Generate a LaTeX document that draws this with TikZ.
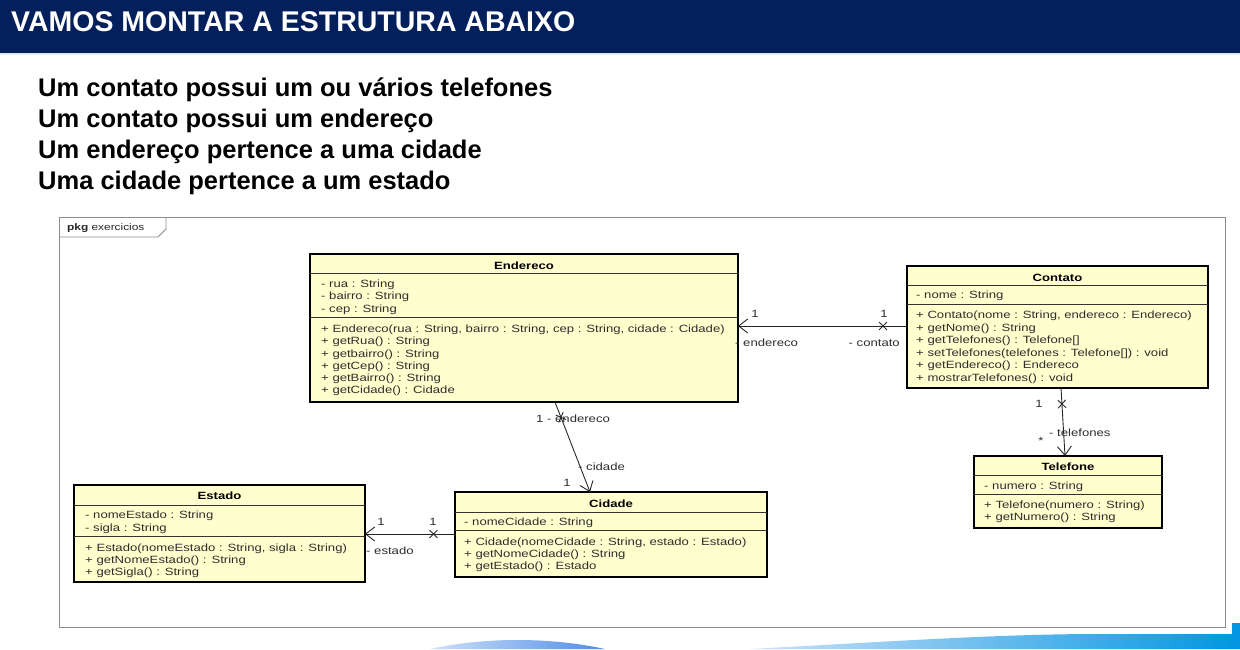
\documentclass[tikz,border=0pt]{standalone}
\usepackage{fontspec}
\setmainfont{Liberation Sans}
\newfontfamily\umlfont[FakeStretch=1.25]{Liberation Sans}
\usetikzlibrary{arrows.meta,shapes.misc}

\definecolor{navy}{RGB}{4,32,92}
\definecolor{umlfill}{RGB}{255,255,206}
\definecolor{umltext}{RGB}{45,45,45}
\definecolor{framegray}{RGB}{140,140,140}
\definecolor{swooshA}{RGB}{205,225,250}
\definecolor{swooshB}{RGB}{80,140,230}
\definecolor{swooshC}{RGB}{0,150,225}

\tikzset{
  classbox/.style={draw=black, line width=1.8pt, fill=umlfill, anchor=north west, inner sep=0, outer sep=0},
  divider/.style={line width=0.9pt, draw=black!80},
  uml/.style={font=\umlfont\fontsize{10.5}{12}\selectfont, text=umltext, inner sep=0, anchor=base west},
  umltitle/.style={font=\umlfont\bfseries\fontsize{10.5}{12}\selectfont, text=black, inner sep=0, anchor=base},
  assoc/.style={line width=0.9pt, draw=black!85},
  navarrow/.style={-{Straight Barb[length=9pt,width=14pt,line width=0.9pt]}},
  xmark/.style={cross out, draw=black!85, line width=0.9pt, minimum size=7pt, inner sep=0},
  rolelabel/.style={font=\umlfont\fontsize{10.5}{12}\selectfont, text=umltext, inner sep=0},
  headline/.style={font=\bfseries\fontsize{28.5}{30}\selectfont, text=white, inner sep=0, anchor=base west},
  statement/.style={font=\bfseries\fontsize{25.5}{28}\selectfont, text=black, inner sep=0, anchor=base west},
}

% one text node per compartment row: prefix, x, first baseline, step, rows
\newcommand\umlrows[5]{%
  \foreach \t [count=\i] in {#5}{\node[uml] (#1\i) at (#2,{#3+#4*(\i-1)}) {\t};}}

\begin{document}
\begin{tikzpicture}[x=1pt,y=-1pt]
\useasboundingbox (0,0) rectangle (1240,649);

% title bar
\fill[navy] (0,0) rectangle (1240,53);
\fill[swooshA!70] (0,53) rectangle (1240,55);
\node[headline] (head) at (11,31) {VAMOS MONTAR A ESTRUTURA ABAIXO};

% statements
\node[statement] (s1) at (38,96) {Um contato possui um ou vários telefones};
\node[statement] (s2) at (38,127) {Um contato possui um endereço};
\node[statement] (s3) at (38,158) {Um endereço pertence a uma cidade};
\node[statement] (s4) at (38,189) {Uma cidade pertence a um estado};

% package frame
\draw[framegray, line width=0.9pt] (59,217) rectangle (1225,627);
\draw[framegray, line width=0.9pt] (59,237) -- (158,237) -- (166,229) -- (166,217);
\node[font=\umlfont\fontsize{9.5}{11}\selectfont, text=black!85, inner sep=0, anchor=west] (pkg) at (67,228) {\textbf{pkg} exercicios};

% class Endereco
\node[classbox, minimum width=428pt, minimum height=148pt] (endereco) at (310,254) {};
\draw[divider] (310,273) -- (738,273);
\draw[divider] (310,317) -- (738,317);
\node[umltitle] (enderecoT) at (524,269) {Endereco};
\umlrows{enderecoA}{321}{287.5}{12.3}{{- rua : String},{- bairro : String},{- cep : String}}
\umlrows{enderecoM}{321}{332.5}{12.25}{{+ Endereco(rua : String, bairro : String, cep : String, cidade : Cidade)},{+ getRua() : String},{+ getbairro() : String},{+ getCep() : String},{+ getBairro() : String},{+ getCidade() : Cidade}}

% class Contato
\node[classbox, minimum width=301pt, minimum height=122pt] (contato) at (907,266) {};
\draw[divider] (907,285) -- (1208,285);
\draw[divider] (907,304) -- (1208,304);
\node[umltitle] (contatoT) at (1057.5,281) {Contato};
\umlrows{contatoA}{916}{298.5}{12.3}{{- nome : String}}
\umlrows{contatoM}{916}{318.5}{12.6}{{+ Contato(nome : String, endereco : Endereco)},{+ getNome() : String},{+ getTelefones() : Telefone[]},{+ setTelefones(telefones : Telefone[]) : void},{+ getEndereco() : Endereco},{+ mostrarTelefones() : void}}

% class Telefone
\node[classbox, minimum width=188pt, minimum height=72pt] (telefone) at (974,456) {};
\draw[divider] (974,475) -- (1162,475);
\draw[divider] (974,494) -- (1162,494);
\node[umltitle] (telefoneT) at (1068,470) {Telefone};
\umlrows{telefoneA}{984}{489.5}{12.3}{{- numero : String}}
\umlrows{telefoneM}{984}{508.5}{12.2}{{+ Telefone(numero : String)},{+ getNumero() : String}}

% class Estado
\node[classbox, minimum width=291pt, minimum height=97pt] (estado) at (74,485) {};
\draw[divider] (74,505) -- (365,505);
\draw[divider] (74,536) -- (365,536);
\node[umltitle] (estadoT) at (219.5,499.5) {Estado};
\umlrows{estadoA}{85}{518.5}{12.5}{{- nomeEstado : String},{- sigla : String}}
\umlrows{estadoM}{85}{551}{12.2}{{+ Estado(nomeEstado : String, sigla : String)},{+ getNomeEstado() : String},{+ getSigla() : String}}

% class Cidade
\node[classbox, minimum width=312pt, minimum height=85pt] (cidade) at (455,492) {};
\draw[divider] (455,512) -- (767,512);
\draw[divider] (455,530) -- (767,530);
\node[umltitle] (cidadeT) at (611,507) {Cidade};
\umlrows{cidadeA}{464}{525}{12.3}{{- nomeCidade : String}}
\umlrows{cidadeM}{464}{545.5}{12.2}{{+ Cidade(nomeCidade : String, estado : Estado)},{+ getNomeCidade() : String},{+ getEstado() : Estado}}

% associations
\draw[assoc, navarrow] (contato.west |- 0,326) -- node[xmark, pos=0.142, sloped] (xContato) {} (endereco.east |- 0,326);
\draw[assoc, navarrow] (endereco.south -| 555,0) -- node[xmark, pos=0.17, sloped] (xEndereco) {} (cidade.north -| 590,0);
\draw[assoc, navarrow] (contato.south -| 1061,0) -- node[xmark, pos=0.235, sloped] (xTelefone) {} (telefone.north -| 1065,0);
\draw[assoc, navarrow] (cidade.west |- 0,534) -- node[xmark, pos=0.24, sloped] (xCidade) {} (estado.east |- 0,534);

% association ends
\node[rolelabel] (m1) at (755,314) {1};
\node[rolelabel] (m2) at (884,314) {1};
\node[rolelabel, anchor=west] (r1) at (735,343) {- endereco};
\node[rolelabel, anchor=east] (r2) at (900,343) {- contato};

\node[rolelabel, anchor=west] (r3) at (536,419) {1 - endereco};
\node[rolelabel, anchor=west] (r4) at (578,467) {- cidade};
\node[rolelabel] (m3) at (567,483) {1};

\node[rolelabel] (m4) at (1039,404) {1};
\node[rolelabel, anchor=west] (r5) at (1049,433) {- telefones};
\node[rolelabel] (m5) at (1041,441) {*};

\node[rolelabel] (m6) at (381,522) {1};
\node[rolelabel] (m7) at (433,522) {1};
\node[rolelabel, anchor=west] (r6) at (366,551) {- estado};

% decorative swooshes at the foot of the slide
\shade[left color=swooshA, right color=swooshB] (430,649) .. controls (480,638) and (545,636) .. (605,649) -- cycle;
\shade[left color=swooshA, right color=swooshC] (750,649) .. controls (900,641) and (1000,634) .. (1100,634) -- (1232,634) -- (1232,623) -- (1240,623) -- (1240,649) -- cycle;
\end{tikzpicture}
\end{document}
